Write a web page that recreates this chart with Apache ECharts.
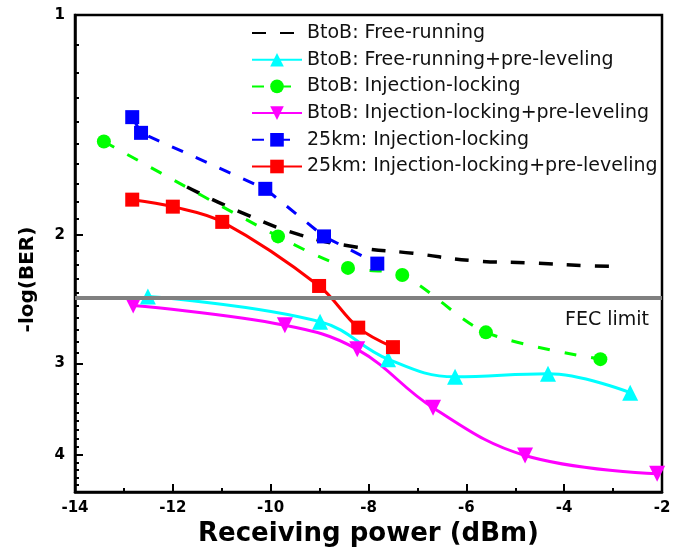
<!DOCTYPE html>
<html>
<head>
<meta charset="utf-8">
<script src="https://cdn.jsdelivr.net/npm/echarts@6.0.0/dist/echarts.min.js"></script>
<style>
  html, body { margin: 0; padding: 0; background: #fff; }
  #chart { width: 684px; height: 553px; }
</style>
</head>
<body>
<div id="chart"></div>
<script>
// BtoB: Free-running (fitted curve, no markers)
const freeX = [-11.71, -10.63, -9.40, -8.23, -7.09, -5.86, -4.70, -3.53, -2.85];
const freeY = [1.72, 1.86, 2.00, 2.08, 2.12, 2.17, 2.185, 2.205, 2.21];
// BtoB: Free-running+pre-leveling
const cyanX = [-12.51, -8.99, -7.60, -6.23, -4.33, -2.65];
const cyanY = [2.43, 2.63, 2.96, 3.13, 3.10, 3.29];
// BtoB: Injection-locking
const greenX = [-13.41, -9.85, -8.42, -7.31, -5.60, -3.26];
const greenY = [1.49, 2.01, 2.22, 2.27, 2.72, 2.96];
// BtoB: Injection-locking+pre-leveling
const magX = [-12.81, -9.71, -8.23, -6.68, -4.80, -2.10];
const magY = [2.50, 2.66, 2.87, 3.45, 4.01, 4.25];
// 25km: Injection-locking
const blueX = [-12.83, -12.65, -10.11, -8.91, -7.82];
const blueY = [1.38, 1.45, 1.73, 2.01, 2.19];
// 25km: Injection-locking+pre-leveling
const redX = [-12.83, -12.00, -10.99, -9.01, -8.21, -7.50];
const redY = [1.79, 1.83, 1.92, 2.35, 2.68, 2.85];

const fecLimit = 2.44;
const yMajor = [1, 2, 3, 4];
const yMinor = [1.1, 1.2, 1.3, 1.4, 1.5, 1.6, 1.7, 1.8, 1.9,
  2.1, 2.2, 2.3, 2.4, 2.5, 2.6, 2.7, 2.8, 2.9,
  3.1, 3.2, 3.3, 3.4, 3.5, 3.6, 3.7, 3.8, 3.9,
  4.1, 4.2, 4.3, 4.4];

const font = 'DejaVu Sans';
const gridLeft = 75, gridRight = 22;

function pairs(xs, ys) {
  return xs.map((x, i) => [x, ys[i]]);
}

var dom = document.getElementById('chart');
var myChart = echarts.init(dom);
var option;

option = {
  animation: false,
  textStyle: { fontFamily: font },
  grid: {
    left: gridLeft, right: gridRight, top: 15, bottom: 61,
    show: true, borderColor: '#000', borderWidth: 2.5
  },
  legend: {
    left: 246, top: 18,
    orient: 'vertical',
    itemWidth: 50, itemHeight: 17, itemGap: 6.7,
    textStyle: { fontFamily: font, fontSize: 19, color: '#111', lineHeight: 20 },
    data: [
      { name: 'BtoB: Free-running', itemStyle: { opacity: 0 } },
      'BtoB: Free-running+pre-leveling', 'BtoB: Injection-locking',
      'BtoB: Injection-locking+pre-leveling', '25km: Injection-locking', '25km: Injection-locking+pre-leveling'
    ]
  },
  xAxis: {
    type: 'value',
    min: -14, max: -2, interval: 2,
    name: 'Receiving power (dBm)',
    nameLocation: 'middle',
    nameGap: 28,
    nameTextStyle: { fontFamily: font, fontSize: 26, fontWeight: 'bold', color: '#000' },
    axisLine: { lineStyle: { color: '#000', width: 2.5 } },
    axisTick: { inside: true, length: 8, lineStyle: { color: '#000', width: 2 } },
    minorTick: { show: true, splitNumber: 2, length: 4, lineStyle: { color: '#000', width: 2 } },
    axisLabel: { fontFamily: font, fontSize: 15, fontWeight: 'bold', color: '#000', margin: 9 },
    splitLine: { show: false }
  },
  yAxis: [{
    type: 'log', logBase: 10,
    min: 1, max: 4.5, inverse: true,
    position: 'left',
    name: '-log(BER)',
    nameLocation: 'middle',
    nameGap: 37,
    nameTextStyle: { fontFamily: font, fontSize: 20, fontWeight: 'bold', color: '#000', padding: [0, 52, 0, 0] },
    axisLine: { show: true, lineStyle: { color: '#000', width: 2.5 } },
    axisTick: { inside: true, length: 8, customValues: yMajor, lineStyle: { color: '#000', width: 2 } },
    axisLabel: {
      customValues: yMajor, fontFamily: font, fontSize: 15, fontWeight: 'bold', color: '#000', margin: 10,
      formatter: function (v) { return String(Math.round(v)); }
    },
    splitLine: { show: false }
  }, {
    // minor ticks only, moved onto the left edge of the grid
    type: 'log', logBase: 10,
    min: 1, max: 4.5, inverse: true,
    position: 'right',
    offset: -(684 - gridLeft - gridRight),
    axisLine: { show: false },
    axisTick: { show: true, inside: false, length: 4, customValues: yMinor, lineStyle: { color: '#000', width: 2 } },
    axisLabel: { show: false },
    splitLine: { show: false }
  }],
  series: [{
    name: 'BtoB: Free-running',
    type: 'line',
    smooth: true,
    symbol: 'none',
    color: '#000',
    lineStyle: { color: '#000', width: 3.5, type: [14, 14] },
    data: pairs(freeX, freeY),
    markLine: {
      silent: true,
      symbol: 'none',
      lineStyle: { color: '#808080', width: 4, type: 'solid' },
      label: {
        position: 'insideEndBottom', formatter: 'FEC limit',
        fontFamily: font, fontSize: 19, color: '#111', distance: [13, 13]
      },
      data: [{ yAxis: fecLimit }]
    }
  }, {
    name: 'BtoB: Free-running+pre-leveling',
    type: 'line',
    smooth: 0.4,
    symbol: 'triangle', symbolSize: 16,
    color: '#00FFFF',
    lineStyle: { color: '#00FFFF', width: 3 },
    data: pairs(cyanX, cyanY)
  }, {
    name: 'BtoB: Injection-locking',
    type: 'line',
    smooth: 0.3,
    symbol: 'circle', symbolSize: 14,
    color: '#00FF00',
    lineStyle: { color: '#00FF00', width: 3, type: [12, 15] },
    data: pairs(greenX, greenY)
  }, {
    name: 'BtoB: Injection-locking+pre-leveling',
    type: 'line',
    smooth: 0.4,
    symbol: 'triangle', symbolSize: 16, symbolRotate: 180,
    color: '#FF00FF',
    lineStyle: { color: '#FF00FF', width: 3 },
    data: pairs(magX, magY)
  }, {
    name: '25km: Injection-locking',
    type: 'line',
    symbol: 'rect', symbolSize: 14,
    color: '#0000FF',
    lineStyle: { color: '#0000FF', width: 3, type: [12, 14] },
    data: pairs(blueX, blueY)
  }, {
    name: '25km: Injection-locking+pre-leveling',
    type: 'line',
    smooth: 0.35,
    symbol: 'rect', symbolSize: 14,
    color: '#FF0000',
    lineStyle: { color: '#FF0000', width: 3 },
    data: pairs(redX, redY)
  }]
};

if (option && typeof option === 'object') {
  myChart.setOption(option);
}
</script>
</body>
</html>
